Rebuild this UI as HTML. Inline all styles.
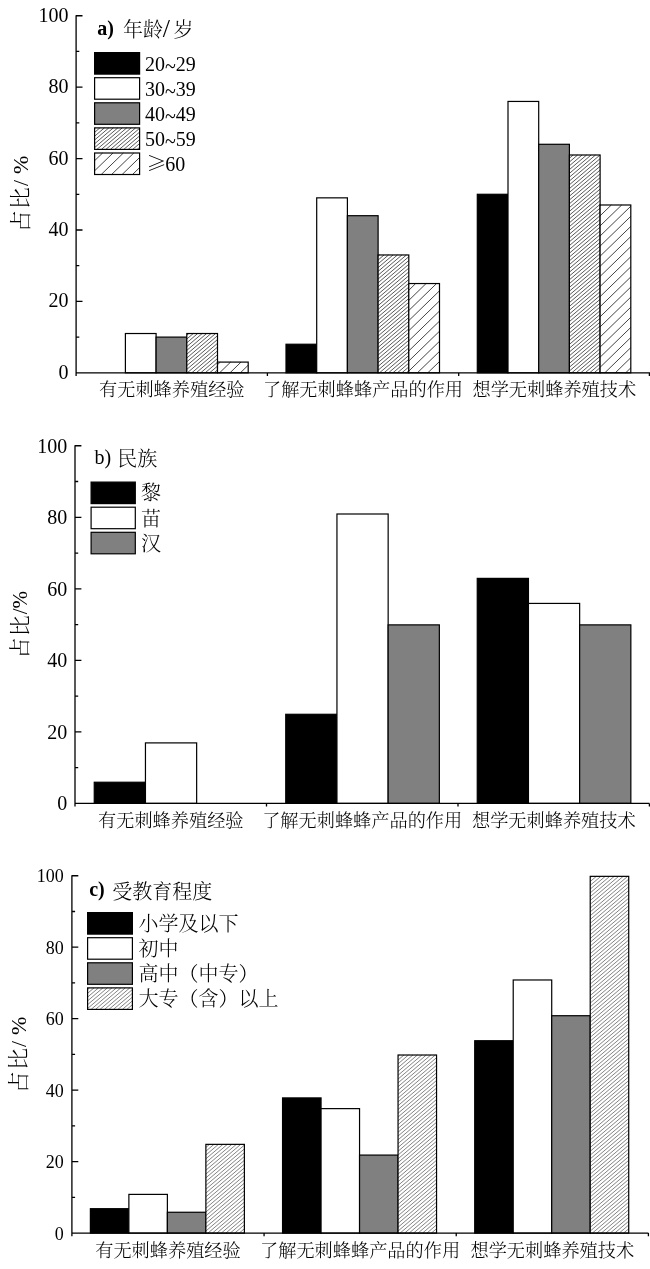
<!DOCTYPE html>
<html lang="zh-CN">
<head>
<meta charset="utf-8">
<title>无刺蜂调查统计图</title>
<style>
html,body{margin:0;padding:0;background:#fff;}
body{width:650px;height:1269px;overflow:hidden;}
svg{display:block;}
text{font-family:"Liberation Serif","Noto Serif CJK SC",serif;fill:#000;}
.tk{font-size:20px;text-anchor:end;}
.xl{font-size:18.2px;text-anchor:middle;font-weight:300;}
.lg{font-size:20px;font-weight:300;}
.yl{font-size:21px;text-anchor:middle;font-weight:300;}
.ax{stroke:#000;stroke-width:1.3;fill:none;}
.bar{stroke:#000;stroke-width:1.2;}
.ge{font-family:"Noto Serif CJK SC",serif;font-size:20px;font-weight:300;}
</style>
</head>
<body>
<svg width="650" height="1269" viewBox="0 0 650 1269">
<rect width="650" height="1269" fill="#fff"/>
<g id="chart-a">
<rect class="bar" x="125.40" y="333.52" width="30.70" height="39.28" fill="#fff"/>
<rect class="bar" x="156.10" y="337.10" width="30.70" height="35.70" fill="#808080"/>
<rect x="186.80" y="333.52" width="30.70" height="39.28" fill="#fff"/>
<path d="M186.8,335.2L188.8,333.5M186.8,339.0L193.3,333.5M186.8,342.8L197.7,333.5M186.8,346.6L202.2,333.5M186.8,350.4L206.7,333.5M186.8,354.2L211.1,333.5M186.8,358.0L215.6,333.5M186.8,361.8L217.5,335.7M186.8,365.6L217.5,339.5M186.8,369.4L217.5,343.3M187.3,372.8L217.5,347.1M191.8,372.8L217.5,350.9M196.2,372.8L217.5,354.7M200.7,372.8L217.5,358.5M205.2,372.8L217.5,362.3M209.6,372.8L217.5,366.1M214.1,372.8L217.5,369.9" stroke="#222" stroke-width="0.75" fill="none"/>
<rect class="bar" x="186.80" y="333.52" width="30.70" height="39.28" fill="none"/>
<rect x="217.50" y="362.09" width="30.70" height="10.71" fill="#fff"/>
<path d="M217.5,364.7L220.2,362.1M219.6,372.8L230.6,362.1M230.0,372.8L241.0,362.1M240.4,372.8L248.2,365.2" stroke="#222" stroke-width="0.85" fill="none"/>
<rect class="bar" x="217.50" y="362.09" width="30.70" height="10.71" fill="none"/>
<rect class="bar" x="286.00" y="344.24" width="30.70" height="28.56" fill="#000"/>
<rect class="bar" x="316.70" y="197.85" width="30.70" height="174.95" fill="#fff"/>
<rect class="bar" x="347.40" y="215.70" width="30.70" height="157.10" fill="#808080"/>
<rect x="378.10" y="254.97" width="30.70" height="117.83" fill="#fff"/>
<path d="M378.1,256.2L379.6,255.0M378.1,260.0L384.0,255.0M378.1,263.8L388.5,255.0M378.1,267.6L393.0,255.0M378.1,271.4L397.4,255.0M378.1,275.2L401.9,255.0M378.1,279.0L406.4,255.0M378.1,282.8L408.8,256.7M378.1,286.6L408.8,260.5M378.1,290.4L408.8,264.3M378.1,294.2L408.8,268.1M378.1,298.0L408.8,271.9M378.1,301.8L408.8,275.7M378.1,305.6L408.8,279.5M378.1,309.4L408.8,283.3M378.1,313.2L408.8,287.1M378.1,317.0L408.8,290.9M378.1,320.8L408.8,294.7M378.1,324.6L408.8,298.5M378.1,328.4L408.8,302.3M378.1,332.2L408.8,306.1M378.1,336.0L408.8,309.9M378.1,339.8L408.8,313.7M378.1,343.6L408.8,317.5M378.1,347.4L408.8,321.3M378.1,351.2L408.8,325.1M378.1,355.0L408.8,328.9M378.1,358.8L408.8,332.7M378.1,362.6L408.8,336.5M378.1,366.4L408.8,340.3M378.1,370.2L408.8,344.1M379.5,372.8L408.8,347.9M384.0,372.8L408.8,351.7M388.5,372.8L408.8,355.5M392.9,372.8L408.8,359.3M397.4,372.8L408.8,363.1M401.9,372.8L408.8,366.9M406.4,372.8L408.8,370.7" stroke="#222" stroke-width="0.75" fill="none"/>
<rect class="bar" x="378.10" y="254.97" width="30.70" height="117.83" fill="none"/>
<rect x="408.80" y="283.54" width="30.70" height="89.26" fill="#fff"/>
<path d="M408.8,290.3L415.7,283.5M408.8,300.4L426.1,283.5M408.8,310.5L436.6,283.5M408.8,320.6L439.5,290.8M408.8,330.7L439.5,300.9M408.8,340.8L439.5,311.0M408.8,350.9L439.5,321.1M408.8,361.0L439.5,331.2M408.8,371.1L439.5,341.3M417.4,372.8L439.5,351.4M427.8,372.8L439.5,361.5M438.2,372.8L439.5,371.6" stroke="#222" stroke-width="0.85" fill="none"/>
<rect class="bar" x="408.80" y="283.54" width="30.70" height="89.26" fill="none"/>
<rect class="bar" x="477.30" y="194.28" width="30.70" height="178.53" fill="#000"/>
<rect class="bar" x="508.00" y="101.44" width="30.70" height="271.36" fill="#fff"/>
<rect class="bar" x="538.70" y="144.29" width="30.70" height="228.51" fill="#808080"/>
<rect x="569.40" y="155.00" width="30.70" height="217.80" fill="#fff"/>
<path d="M569.4,158.2L573.2,155.0M569.4,162.0L577.6,155.0M569.4,165.8L582.1,155.0M569.4,169.6L586.6,155.0M569.4,173.4L591.1,155.0M569.4,177.2L595.5,155.0M569.4,181.0L600.0,155.0M569.4,184.8L600.1,158.7M569.4,188.6L600.1,162.5M569.4,192.4L600.1,166.3M569.4,196.2L600.1,170.1M569.4,200.0L600.1,173.9M569.4,203.8L600.1,177.7M569.4,207.6L600.1,181.5M569.4,211.4L600.1,185.3M569.4,215.2L600.1,189.1M569.4,219.0L600.1,192.9M569.4,222.8L600.1,196.7M569.4,226.6L600.1,200.5M569.4,230.4L600.1,204.3M569.4,234.2L600.1,208.1M569.4,238.0L600.1,211.9M569.4,241.8L600.1,215.7M569.4,245.6L600.1,219.5M569.4,249.4L600.1,223.3M569.4,253.2L600.1,227.1M569.4,257.0L600.1,230.9M569.4,260.8L600.1,234.7M569.4,264.6L600.1,238.5M569.4,268.4L600.1,242.3M569.4,272.2L600.1,246.1M569.4,276.0L600.1,249.9M569.4,279.8L600.1,253.7M569.4,283.6L600.1,257.5M569.4,287.4L600.1,261.3M569.4,291.2L600.1,265.1M569.4,295.0L600.1,268.9M569.4,298.8L600.1,272.7M569.4,302.6L600.1,276.5M569.4,306.4L600.1,280.3M569.4,310.2L600.1,284.1M569.4,314.0L600.1,287.9M569.4,317.8L600.1,291.7M569.4,321.6L600.1,295.5M569.4,325.4L600.1,299.3M569.4,329.2L600.1,303.1M569.4,333.0L600.1,306.9M569.4,336.8L600.1,310.7M569.4,340.6L600.1,314.5M569.4,344.4L600.1,318.3M569.4,348.2L600.1,322.1M569.4,352.0L600.1,325.9M569.4,355.8L600.1,329.7M569.4,359.6L600.1,333.5M569.4,363.4L600.1,337.3M569.4,367.2L600.1,341.1M569.4,371.0L600.1,344.9M571.8,372.8L600.1,348.7M576.2,372.8L600.1,352.5M580.7,372.8L600.1,356.3M585.2,372.8L600.1,360.1M589.6,372.8L600.1,363.9M594.1,372.8L600.1,367.7M598.6,372.8L600.1,371.5" stroke="#222" stroke-width="0.75" fill="none"/>
<rect class="bar" x="569.40" y="155.00" width="30.70" height="217.80" fill="none"/>
<rect x="600.10" y="204.99" width="30.70" height="167.81" fill="#fff"/>
<path d="M600.1,205.7L600.8,205.0M600.1,215.8L611.3,205.0M600.1,225.9L621.7,205.0M600.1,236.0L630.8,206.2M600.1,246.1L630.8,216.3M600.1,256.2L630.8,226.4M600.1,266.3L630.8,236.5M600.1,276.4L630.8,246.6M600.1,286.5L630.8,256.7M600.1,296.6L630.8,266.8M600.1,306.7L630.8,276.9M600.1,316.8L630.8,287.0M600.1,326.9L630.8,297.1M600.1,337.0L630.8,307.2M600.1,347.1L630.8,317.3M600.1,357.2L630.8,327.4M600.1,367.3L630.8,337.5M604.8,372.8L630.8,347.6M615.3,372.8L630.8,357.7M625.7,372.8L630.8,367.8" stroke="#222" stroke-width="0.85" fill="none"/>
<rect class="bar" x="600.10" y="204.99" width="30.70" height="167.81" fill="none"/>
<path class="ax" d="M76.10,15.15 V376.00 M75.50,372.80 H650.00 M76.10,372.80 h6.4 M76.10,337.10 h3.2 M76.10,301.39 h6.4 M76.10,265.69 h3.2 M76.10,229.98 h6.4 M76.10,194.28 h3.2 M76.10,158.57 h6.4 M76.10,122.87 h3.2 M76.10,87.16 h6.4 M76.10,51.45 h3.2 M76.10,15.75 h6.4 M267.40,372.80 v3.2 M458.70,372.80 v3.2 M649.40,372.80 v3.2"/>
<text class="tk" style="font-size:20px" x="68.4" y="378.9">0</text>
<text class="tk" style="font-size:20px" x="68.4" y="307.4">20</text>
<text class="tk" style="font-size:20px" x="68.4" y="236.0">40</text>
<text class="tk" style="font-size:20px" x="68.4" y="164.6">60</text>
<text class="tk" style="font-size:20px" x="68.4" y="93.2">80</text>
<text class="tk" style="font-size:20px" x="68.4" y="21.8">100</text>
<text class="xl" x="171.8" y="395.5">有无刺蜂养殖经验</text>
<text class="xl" x="363.0" y="395.5">了解无刺蜂蜂产品的作用</text>
<text class="xl" x="554.3" y="395.5">想学无刺蜂养殖技术</text>
<text class="yl" style="font-size:22px" transform="translate(28,194.0) rotate(-90)">占<tspan dx="1.1">比</tspan><tspan dx="1.1">/</tspan><tspan dx="0.4"> %</tspan></text>
<text class="lg" x="97.2" y="35" style="font-weight:bold">a)</text>
<text class="lg" x="123.0" y="37">年龄<tspan dx="-0.3" style="font-size:26px">/</tspan><tspan dx="3.5">岁</tspan></text>
<rect class="bar" x="94.60" y="52.60" width="45.00" height="21.50" fill="#000"/>
<text class="lg" x="145.0" y="70.9">20<tspan dy="2.2">~</tspan><tspan dy="-2.2">29</tspan></text>
<rect class="bar" x="94.60" y="77.70" width="45.00" height="21.50" fill="#fff"/>
<text class="lg" x="145.0" y="96.0">30<tspan dy="2.2">~</tspan><tspan dy="-2.2">39</tspan></text>
<rect class="bar" x="94.60" y="102.80" width="45.00" height="21.50" fill="#808080"/>
<text class="lg" x="145.0" y="121.1">40<tspan dy="2.2">~</tspan><tspan dy="-2.2">49</tspan></text>
<rect x="94.60" y="127.90" width="45.00" height="21.50" fill="#fff"/>
<path d="M94.6,128.6L95.4,127.9M94.6,132.4L99.9,127.9M94.6,136.2L104.4,127.9M94.6,140.0L108.8,127.9M94.6,143.8L113.3,127.9M94.6,147.6L117.8,127.9M96.9,149.4L122.2,127.9M101.4,149.4L126.7,127.9M105.9,149.4L131.2,127.9M110.4,149.4L135.6,127.9M114.8,149.4L139.6,128.3M119.3,149.4L139.6,132.1M123.8,149.4L139.6,135.9M128.2,149.4L139.6,139.7M132.7,149.4L139.6,143.5M137.2,149.4L139.6,147.3" stroke="#222" stroke-width="0.75" fill="none"/>
<rect class="bar" x="94.60" y="127.90" width="45.00" height="21.50" fill="none"/>
<text class="lg" x="145.0" y="146.2">50<tspan dy="2.2">~</tspan><tspan dy="-2.2">59</tspan></text>
<rect x="94.60" y="153.00" width="45.00" height="21.50" fill="#fff"/>
<path d="M94.6,160.7L102.6,153.0M94.6,170.8L113.0,153.0M101.2,174.5L123.4,153.0M111.6,174.5L133.8,153.0M122.1,174.5L139.6,157.5M132.5,174.5L139.6,167.6" stroke="#222" stroke-width="0.85" fill="none"/>
<rect class="bar" x="94.60" y="153.00" width="45.00" height="21.50" fill="none"/>
<text class="lg" x="146.6" y="171.2"><tspan class="ge">≥</tspan><tspan x="165.2">60</tspan></text>
</g>
<g id="chart-b">
<rect class="bar" x="94.25" y="782.24" width="51.20" height="21.16" fill="#000"/>
<rect class="bar" x="145.45" y="742.90" width="51.20" height="60.50" fill="#fff"/>
<rect class="bar" x="285.75" y="714.29" width="51.20" height="89.11" fill="#000"/>
<rect class="bar" x="336.95" y="514.00" width="51.20" height="289.40" fill="#fff"/>
<rect class="bar" x="388.15" y="624.88" width="51.20" height="178.52" fill="#808080"/>
<rect class="bar" x="477.25" y="578.38" width="51.20" height="225.02" fill="#000"/>
<rect class="bar" x="528.45" y="603.42" width="51.20" height="199.98" fill="#fff"/>
<rect class="bar" x="579.65" y="624.88" width="51.20" height="178.52" fill="#808080"/>
<path class="ax" d="M75.00,445.15 V806.60 M74.40,803.40 H649.50 M75.00,803.40 h6.4 M75.00,767.63 h3.2 M75.00,731.87 h6.4 M75.00,696.11 h3.2 M75.00,660.34 h6.4 M75.00,624.58 h3.2 M75.00,588.81 h6.4 M75.00,553.04 h3.2 M75.00,517.28 h6.4 M75.00,481.51 h3.2 M75.00,445.75 h6.4 M266.50,803.40 v3.2 M458.00,803.40 v3.2 M649.40,803.40 v3.2"/>
<text class="tk" style="font-size:20px" x="67.2" y="810.4">0</text>
<text class="tk" style="font-size:20px" x="67.2" y="738.8">20</text>
<text class="tk" style="font-size:20px" x="67.2" y="667.3">40</text>
<text class="tk" style="font-size:20px" x="67.2" y="595.8">60</text>
<text class="tk" style="font-size:20px" x="67.2" y="524.2">80</text>
<text class="tk" style="font-size:20px" x="67.2" y="452.7">100</text>
<text class="xl" x="170.8" y="826.6">有无刺蜂养殖经验</text>
<text class="xl" x="362.2" y="826.6">了解无刺蜂蜂产品的作用</text>
<text class="xl" x="553.8" y="826.6">想学无刺蜂养殖技术</text>
<text class="yl" style="font-size:21px" transform="translate(27.3,624.7) rotate(-90)">占<tspan dx="1.1">比</tspan><tspan dx="1.1">/</tspan>%</text>
<text class="lg" x="94.4" y="464">b)</text>
<text class="lg" x="117.2" y="465.8">民族</text>
<rect class="bar" x="91.10" y="482.10" width="44.20" height="21.50" fill="#000"/>
<text class="lg" x="141.0" y="500.4">黎</text>
<rect class="bar" x="91.10" y="507.20" width="44.20" height="21.50" fill="#fff"/>
<text class="lg" x="141.0" y="525.5">苗</text>
<rect class="bar" x="91.10" y="532.30" width="44.20" height="21.50" fill="#808080"/>
<text class="lg" x="141.0" y="550.6">汉</text>
</g>
<g id="chart-c">
<rect class="bar" x="90.38" y="1208.69" width="38.50" height="24.41" fill="#000"/>
<rect class="bar" x="128.88" y="1194.39" width="38.50" height="38.71" fill="#fff"/>
<rect class="bar" x="167.38" y="1212.26" width="38.50" height="20.84" fill="#808080"/>
<rect x="205.88" y="1144.36" width="38.50" height="88.74" fill="#fff"/>
<path d="M205.9,1147.4L209.5,1144.4M205.9,1151.2L213.9,1144.4M205.9,1155.0L218.4,1144.4M205.9,1158.8L222.9,1144.4M205.9,1162.6L227.3,1144.4M205.9,1166.4L231.8,1144.4M205.9,1170.2L236.3,1144.4M205.9,1174.0L240.7,1144.4M205.9,1177.8L244.4,1145.1M205.9,1181.6L244.4,1148.9M205.9,1185.4L244.4,1152.7M205.9,1189.2L244.4,1156.5M205.9,1193.0L244.4,1160.3M205.9,1196.8L244.4,1164.1M205.9,1200.6L244.4,1167.9M205.9,1204.4L244.4,1171.7M205.9,1208.2L244.4,1175.5M205.9,1212.0L244.4,1179.3M205.9,1215.8L244.4,1183.1M205.9,1219.6L244.4,1186.9M205.9,1223.4L244.4,1190.7M205.9,1227.2L244.4,1194.5M205.9,1231.0L244.4,1198.3M207.9,1233.1L244.4,1202.1M212.4,1233.1L244.4,1205.9M216.8,1233.1L244.4,1209.7M221.3,1233.1L244.4,1213.5M225.8,1233.1L244.4,1217.3M230.2,1233.1L244.4,1221.1M234.7,1233.1L244.4,1224.9M239.2,1233.1L244.4,1228.7M243.6,1233.1L244.4,1232.5" stroke="#222" stroke-width="0.5625" fill="none"/>
<rect class="bar" x="205.88" y="1144.36" width="38.50" height="88.74" fill="none"/>
<rect class="bar" x="282.55" y="1097.91" width="38.50" height="135.19" fill="#000"/>
<rect class="bar" x="321.05" y="1108.63" width="38.50" height="124.47" fill="#fff"/>
<rect class="bar" x="359.55" y="1155.08" width="38.50" height="78.02" fill="#808080"/>
<rect x="398.05" y="1055.02" width="38.50" height="178.07" fill="#fff"/>
<path d="M398.0,1056.3L399.5,1055.0M398.0,1060.1L404.0,1055.0M398.0,1063.9L408.4,1055.0M398.0,1067.7L412.9,1055.0M398.0,1071.5L417.4,1055.0M398.0,1075.3L421.9,1055.0M398.0,1079.1L426.3,1055.0M398.0,1082.9L430.8,1055.0M398.0,1086.7L435.3,1055.0M398.0,1090.5L436.5,1057.7M398.0,1094.3L436.5,1061.5M398.0,1098.1L436.5,1065.3M398.0,1101.9L436.5,1069.1M398.0,1105.7L436.5,1072.9M398.0,1109.5L436.5,1076.7M398.0,1113.3L436.5,1080.5M398.0,1117.1L436.5,1084.3M398.0,1120.9L436.5,1088.1M398.0,1124.7L436.5,1091.9M398.0,1128.5L436.5,1095.7M398.0,1132.3L436.5,1099.5M398.0,1136.1L436.5,1103.3M398.0,1139.9L436.5,1107.1M398.0,1143.7L436.5,1110.9M398.0,1147.5L436.5,1114.7M398.0,1151.3L436.5,1118.5M398.0,1155.1L436.5,1122.3M398.0,1158.9L436.5,1126.1M398.0,1162.7L436.5,1129.9M398.0,1166.5L436.5,1133.7M398.0,1170.3L436.5,1137.5M398.0,1174.1L436.5,1141.3M398.0,1177.9L436.5,1145.1M398.0,1181.7L436.5,1148.9M398.0,1185.5L436.5,1152.7M398.0,1189.3L436.5,1156.5M398.0,1193.1L436.5,1160.3M398.0,1196.9L436.5,1164.1M398.0,1200.7L436.5,1167.9M398.0,1204.5L436.5,1171.7M398.0,1208.3L436.5,1175.5M398.0,1212.1L436.5,1179.3M398.0,1215.9L436.5,1183.1M398.0,1219.7L436.5,1186.9M398.0,1223.5L436.5,1190.7M398.0,1227.3L436.5,1194.5M398.0,1231.1L436.5,1198.3M400.1,1233.1L436.5,1202.1M404.6,1233.1L436.5,1205.9M409.1,1233.1L436.5,1209.7M413.5,1233.1L436.5,1213.5M418.0,1233.1L436.5,1217.3M422.5,1233.1L436.5,1221.1M426.9,1233.1L436.5,1224.9M431.4,1233.1L436.5,1228.7M435.9,1233.1L436.5,1232.5" stroke="#222" stroke-width="0.5625" fill="none"/>
<rect class="bar" x="398.05" y="1055.02" width="38.50" height="178.07" fill="none"/>
<rect class="bar" x="474.72" y="1040.73" width="38.50" height="192.37" fill="#000"/>
<rect class="bar" x="513.22" y="979.98" width="38.50" height="253.12" fill="#fff"/>
<rect class="bar" x="551.72" y="1015.72" width="38.50" height="217.38" fill="#808080"/>
<rect x="590.22" y="876.35" width="38.50" height="356.75" fill="#fff"/>
<path d="M590.2,877.7L591.8,876.4M590.2,881.5L596.3,876.4M590.2,885.3L600.8,876.4M590.2,889.1L605.2,876.4M590.2,892.9L609.7,876.4M590.2,896.7L614.2,876.4M590.2,900.5L618.6,876.4M590.2,904.3L623.1,876.4M590.2,908.1L627.6,876.4M590.2,911.9L628.7,879.2M590.2,915.7L628.7,883.0M590.2,919.5L628.7,886.8M590.2,923.3L628.7,890.6M590.2,927.1L628.7,894.4M590.2,930.9L628.7,898.2M590.2,934.7L628.7,902.0M590.2,938.5L628.7,905.8M590.2,942.3L628.7,909.6M590.2,946.1L628.7,913.4M590.2,949.9L628.7,917.2M590.2,953.7L628.7,921.0M590.2,957.5L628.7,924.8M590.2,961.3L628.7,928.6M590.2,965.1L628.7,932.4M590.2,968.9L628.7,936.2M590.2,972.7L628.7,940.0M590.2,976.5L628.7,943.8M590.2,980.3L628.7,947.6M590.2,984.1L628.7,951.4M590.2,987.9L628.7,955.2M590.2,991.7L628.7,959.0M590.2,995.5L628.7,962.8M590.2,999.3L628.7,966.6M590.2,1003.1L628.7,970.4M590.2,1006.9L628.7,974.2M590.2,1010.7L628.7,978.0M590.2,1014.5L628.7,981.8M590.2,1018.3L628.7,985.6M590.2,1022.1L628.7,989.4M590.2,1025.9L628.7,993.2M590.2,1029.7L628.7,997.0M590.2,1033.5L628.7,1000.8M590.2,1037.3L628.7,1004.6M590.2,1041.1L628.7,1008.4M590.2,1044.9L628.7,1012.2M590.2,1048.7L628.7,1016.0M590.2,1052.5L628.7,1019.8M590.2,1056.3L628.7,1023.6M590.2,1060.1L628.7,1027.4M590.2,1063.9L628.7,1031.2M590.2,1067.7L628.7,1035.0M590.2,1071.5L628.7,1038.8M590.2,1075.3L628.7,1042.6M590.2,1079.1L628.7,1046.4M590.2,1082.9L628.7,1050.2M590.2,1086.7L628.7,1054.0M590.2,1090.5L628.7,1057.8M590.2,1094.3L628.7,1061.6M590.2,1098.1L628.7,1065.4M590.2,1101.9L628.7,1069.2M590.2,1105.7L628.7,1073.0M590.2,1109.5L628.7,1076.8M590.2,1113.3L628.7,1080.6M590.2,1117.1L628.7,1084.4M590.2,1120.9L628.7,1088.2M590.2,1124.7L628.7,1092.0M590.2,1128.5L628.7,1095.8M590.2,1132.3L628.7,1099.6M590.2,1136.1L628.7,1103.4M590.2,1139.9L628.7,1107.2M590.2,1143.7L628.7,1111.0M590.2,1147.5L628.7,1114.8M590.2,1151.3L628.7,1118.6M590.2,1155.1L628.7,1122.4M590.2,1158.9L628.7,1126.2M590.2,1162.7L628.7,1130.0M590.2,1166.5L628.7,1133.8M590.2,1170.3L628.7,1137.6M590.2,1174.1L628.7,1141.4M590.2,1177.9L628.7,1145.2M590.2,1181.7L628.7,1149.0M590.2,1185.5L628.7,1152.8M590.2,1189.3L628.7,1156.6M590.2,1193.1L628.7,1160.4M590.2,1196.9L628.7,1164.2M590.2,1200.7L628.7,1168.0M590.2,1204.5L628.7,1171.8M590.2,1208.3L628.7,1175.6M590.2,1212.1L628.7,1179.4M590.2,1215.9L628.7,1183.2M590.2,1219.7L628.7,1187.0M590.2,1223.5L628.7,1190.8M590.2,1227.3L628.7,1194.6M590.2,1231.1L628.7,1198.4M592.4,1233.1L628.7,1202.2M596.8,1233.1L628.7,1206.0M601.3,1233.1L628.7,1209.8M605.8,1233.1L628.7,1213.6M610.2,1233.1L628.7,1217.4M614.7,1233.1L628.7,1221.2M619.2,1233.1L628.7,1225.0M623.6,1233.1L628.7,1228.8M628.1,1233.1L628.7,1232.6" stroke="#222" stroke-width="0.5625" fill="none"/>
<rect class="bar" x="590.22" y="876.35" width="38.50" height="356.75" fill="none"/>
<path class="ax" d="M71.90,875.15 V1236.30 M71.30,1233.10 H648.40 M71.90,1233.10 h6.4 M71.90,1197.37 h3.2 M71.90,1161.63 h6.4 M71.90,1125.89 h3.2 M71.90,1090.16 h6.4 M71.90,1054.42 h3.2 M71.90,1018.69 h6.4 M71.90,982.95 h3.2 M71.90,947.22 h6.4 M71.90,911.48 h3.2 M71.90,875.75 h6.4 M264.07,1233.10 v3.2 M456.23,1233.10 v3.2 M648.40,1233.10 v3.2"/>
<text class="tk" style="font-size:18px" x="63.7" y="1239.7">0</text>
<text class="tk" style="font-size:18px" x="63.7" y="1168.2">20</text>
<text class="tk" style="font-size:18px" x="63.7" y="1096.8">40</text>
<text class="tk" style="font-size:18px" x="63.7" y="1025.3">60</text>
<text class="tk" style="font-size:18px" x="63.7" y="953.8">80</text>
<text class="tk" style="font-size:18px" x="63.7" y="882.4">100</text>
<text class="xl" x="168.0" y="1256.7">有无刺蜂养殖经验</text>
<text class="xl" x="360.1" y="1256.7">了解无刺蜂蜂产品的作用</text>
<text class="xl" x="552.3" y="1256.7">想学无刺蜂养殖技术</text>
<text class="yl" style="font-size:22px" transform="translate(25.7,1054.9) rotate(-90)">占<tspan dx="1.1">比</tspan><tspan dx="1.1">/</tspan><tspan dx="0.4"> %</tspan></text>
<text class="lg" x="89.2" y="895.7" style="font-weight:bold">c)</text>
<text class="lg" x="112.2" y="898.5">受教育程度</text>
<rect class="bar" x="87.60" y="912.60" width="44.80" height="21.50" fill="#000"/>
<text class="lg" x="138.5" y="930.9">小学及以下</text>
<rect class="bar" x="87.60" y="937.70" width="44.80" height="21.50" fill="#fff"/>
<text class="lg" x="138.5" y="956.0">初中</text>
<rect class="bar" x="87.60" y="962.80" width="44.80" height="21.50" fill="#808080"/>
<text class="lg" x="138.5" y="981.1">高中（中专）</text>
<rect x="87.60" y="987.90" width="44.80" height="21.50" fill="#fff"/>
<path d="M87.6,989.5L89.5,987.9M87.6,993.3L94.0,987.9M87.6,997.1L98.5,987.9M87.6,1000.9L102.9,987.9M87.6,1004.7L107.4,987.9M87.6,1008.5L111.9,987.9M91.1,1009.4L116.4,987.9M95.5,1009.4L120.8,987.9M100.0,1009.4L125.3,987.9M104.5,1009.4L129.8,987.9M108.9,1009.4L132.4,989.5M113.4,1009.4L132.4,993.3M117.9,1009.4L132.4,997.1M122.4,1009.4L132.4,1000.9M126.8,1009.4L132.4,1004.7M131.3,1009.4L132.4,1008.5" stroke="#222" stroke-width="0.5625" fill="none"/>
<rect class="bar" x="87.60" y="987.90" width="44.80" height="21.50" fill="none"/>
<text class="lg" x="138.5" y="1006.2">大专（含）以上</text>
</g>
</svg>
</body>
</html>
